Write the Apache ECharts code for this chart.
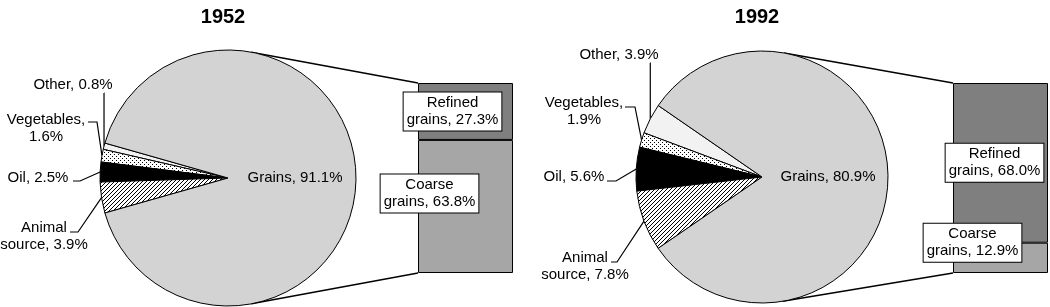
<!DOCTYPE html>
<html>
<head>
<meta charset="utf-8">
<script src="https://cdn.jsdelivr.net/npm/echarts@6/dist/echarts.min.js"></script>
<style>
  html, body { margin: 0; background: #fff; }
  #main { width: 1050px; height: 307px; }
</style>
</head>
<body>
<div id="main"></div>
<script>
// data
const years = ['1952', '1992'];
const sliceNames = ['Other', 'Vegetables', 'Oil', 'Animal source', 'Grains'];
const slices1952 = [0.8, 1.6, 2.5, 3.9, 91.1];
const slices1992 = [3.9, 1.9, 5.6, 7.8, 80.9];
const grainNames = ['Coarse grains', 'Refined grains'];
const grains1952 = [63.8, 27.3];
const grains1992 = [12.9, 68.0];

const FONT = "'Liberation Sans', Arial, sans-serif";

// fill patterns
function makePattern(draw, size) {
  const c = document.createElement('canvas');
  c.width = size; c.height = size;
  const ctx = c.getContext('2d');
  ctx.fillStyle = '#fff';
  ctx.fillRect(0, 0, size, size);
  ctx.fillStyle = '#000';
  draw(ctx);
  return { image: c, repeat: 'repeat' };
}
const dots = makePattern(function (ctx) {
  ctx.fillRect(0, 0, 1, 1);
  ctx.fillRect(2, 2, 1, 1);
}, 4);
const hatch = makePattern(function (ctx) {
  for (let i = 0; i < 4; i++) ctx.fillRect(i, 3 - i, 1, 1);
}, 4);
const sliceFills = ['#f2f2f2', dots, '#000', hatch, '#d3d3d3'];
const barFills = ['#a6a6a6', '#7f7f7f'];

// layout of each panel (label spots are offsets from pie centre)
const panels = [
  {
    year: years[0], slices: slices1952, grains: grains1952,
    c: [228, 178], r: 128, titleX: 218,
    bar: { left: 418, top: 83, width: 95, height: 190 },
    barLabelOffsets: [[-36, -13], [-13, 0]],
    spots: [
      { label: [-155, -93], line: [[-124, -85]] },
      { label: [-182, -50], line: [[-131, -56], [-140, -56]] },
      { label: [-190, 0], line: [[-148, 3], [-155, 3]] },
      { label: [-184, 58], line: [[-150, 54], [-158, 54]] }
    ]
  },
  {
    year: years[1], slices: slices1992, grains: grains1992,
    c: [762, 177], r: 126, titleX: 752,
    bar: { left: 953, top: 83, width: 95, height: 190 },
    barLabelOffsets: [[-28, -15], [-6, 0]],
    spots: [
      { label: [-143, -122], line: [[-112, -114]] },
      { label: [-178, -66], line: [[-127, -70], [-137, -70]] },
      { label: [-188, 0], line: [[-146, 4], [-155, 4]] },
      { label: [-177, 89], line: [[-145, 85], [-151, 85]] }
    ]
  }
];

function sliceText(name, v) {
  if (name === 'Vegetables') return 'Vegetables,\n' + v.toFixed(1) + '%';
  if (name === 'Animal source') return 'Animal\nsource, ' + v.toFixed(1) + '%';
  return name + ', ' + v.toFixed(1) + '%';
}

function pieSeries(p) {
  const small = p.slices.slice(0, 4).reduce((a, b) => a + b, 0);
  const start = 180 - small * 1.8;
  return {
    type: 'pie',
    center: p.c,
    radius: p.r,
    startAngle: start,
    clockwise: false,
    avoidLabelOverlap: false,
    animation: false,
    itemStyle: { borderColor: '#000', borderWidth: 1 },
    label: {
      color: '#000', fontSize: 15, fontFamily: FONT, lineHeight: 17,
      formatter: function (d) { return sliceText(d.name, d.value); }
    },
    labelLine: { show: true, lineStyle: { color: '#000', width: 1.2 } },
    labelLayout: function (params) {
      const i = params.dataIndex;
      if (i > 3) return {};
      let before = 0;
      for (let k = 0; k < i; k++) before += p.slices[k];
      const mid = (start + (before + p.slices[i] / 2) * 3.6) * Math.PI / 180;
      const edge = [p.c[0] + p.r * Math.cos(mid), p.c[1] - p.r * Math.sin(mid)];
      const s = p.spots[i];
      const pts = [edge];
      s.line.forEach(q => pts.push([p.c[0] + q[0], p.c[1] + q[1]]));
      if (pts.length === 2) pts.splice(1, 0, [edge[0], pts[1][1]]);
      return {
        x: p.c[0] + s.label[0], y: p.c[1] + s.label[1],
        align: 'center', verticalAlign: 'middle',
        labelLinePoints: pts
      };
    },
    data: sliceNames.map((n, i) => {
      const item = { name: n, value: p.slices[i], itemStyle: { color: sliceFills[i] } };
      if (i === 4) {
        item.label = { position: 'inside' };
        item.labelLine = { show: false };
      }
      return item;
    })
  };
}

function tangent(p, corner, up) {
  const dx = corner[0] - p.c[0], dy = corner[1] - p.c[1];
  const dist = Math.sqrt(dx * dx + dy * dy);
  const a = Math.atan2(dy, dx) + (up ? -1 : 1) * Math.acos(p.r / dist);
  return [p.c[0] + p.r * Math.cos(a), p.c[1] + p.r * Math.sin(a)];
}

const series = [];
const graphic = [];
panels.forEach(function (p, gi) {
  series.push(pieSeries(p));
  grainNames.forEach(function (gn, j) {
    series.push({
      type: 'bar', name: gn, xAxisIndex: gi, yAxisIndex: gi, stack: 'g' + gi,
      barWidth: '100%', animation: false,
      data: [p.grains[j]],
      itemStyle: { color: barFills[j], borderColor: '#000', borderWidth: 1 },
      label: {
        show: true, position: 'inside', offset: p.barLabelOffsets[j],
        formatter: function (d) { return d.seriesName.replace(' ', '\n') + ', ' + d.value.toFixed(1) + '%'; },
        color: '#000', fontSize: 15, fontFamily: FONT, lineHeight: 17,
        backgroundColor: '#fff', borderColor: '#000', borderWidth: 1, padding: [2, 3]
      }
    });
  });
  const topCorner = [p.bar.left, p.bar.top];
  const botCorner = [p.bar.left, p.bar.top + p.bar.height];
  [[topCorner, true], [botCorner, false]].forEach(function (t) {
    const a = tangent(p, t[0], t[1]);
    graphic.push({
      type: 'line', z: -1,
      shape: { x1: a[0], y1: a[1], x2: t[0][0], y2: t[0][1] },
      style: { stroke: '#000', lineWidth: 1.5 }
    });
  });
});

const chart = echarts.init(document.getElementById('main'));
chart.setOption({
  backgroundColor: '#fff',
  animation: false,
  title: panels.map(p => ({
    text: p.year, left: p.titleX, top: 2, textAlign: 'center',
    textStyle: { fontSize: 20, fontWeight: 'bold', color: '#000', fontFamily: FONT }
  })),
  grid: panels.map(p => ({ left: p.bar.left, top: p.bar.top, width: p.bar.width, height: p.bar.height })),
  xAxis: panels.map((p, i) => ({ type: 'category', gridIndex: i, data: ['Grains'], show: false })),
  yAxis: panels.map((p, i) => ({ type: 'value', gridIndex: i, min: 0, max: p.slices[4], show: false })),
  graphic: graphic,
  series: series
});
</script>
</body>
</html>
